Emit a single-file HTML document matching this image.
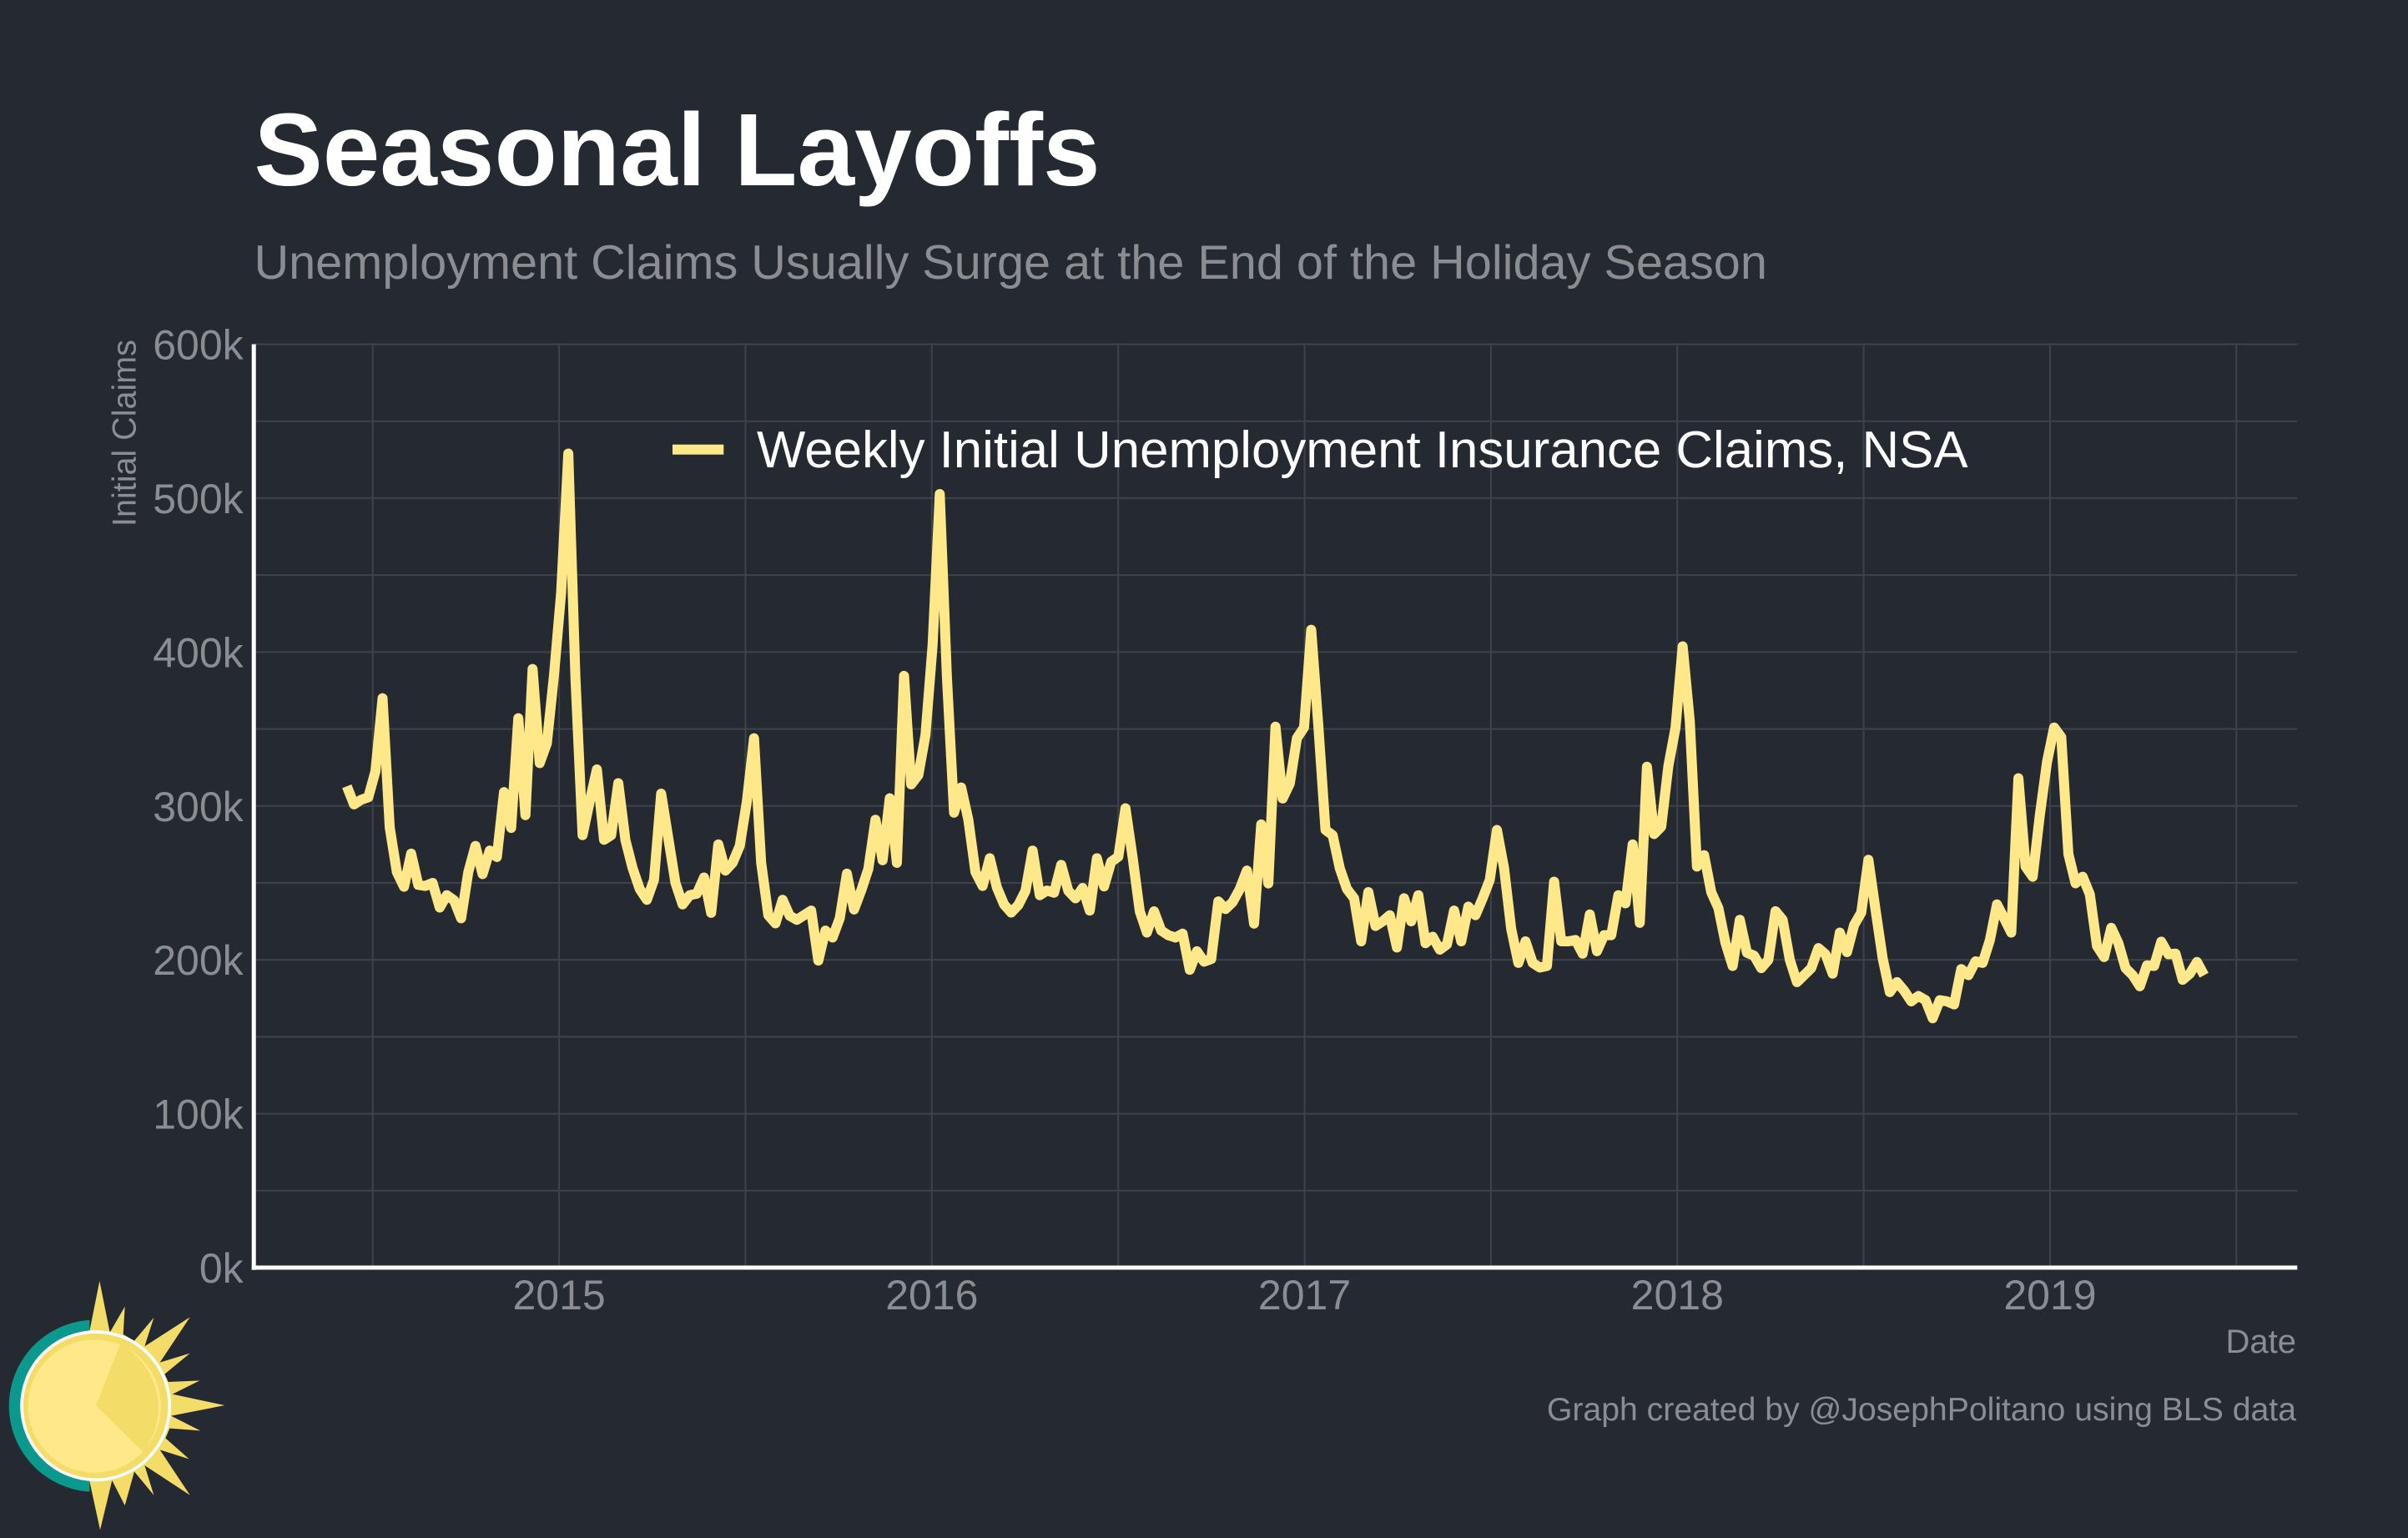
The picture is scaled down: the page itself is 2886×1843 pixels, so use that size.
<!DOCTYPE html>
<html lang="en">
<head>
<meta charset="utf-8">
<title>Seasonal Layoffs</title>
<style>
html,body{margin:0;padding:0;background:#252a32;}
svg{display:block;}
text{font-family:"Liberation Sans",Arial,sans-serif;}
</style>
</head>
<body>
<svg id="chart" xmlns="http://www.w3.org/2000/svg" width="2886" height="1843" viewBox="0 0 2886 1843">
  <rect width="2886" height="1843" fill="#252a32"/>
  <g id="grid"></g>
  <g id="series"></g>
  <g id="axes"></g>
  <text x="304.5" y="222" font-size="123.3" font-weight="700" fill="#ffffff">Seasonal Layoffs</text>
  <text x="304.5" y="334" font-size="57.65" fill="#8c8d93">Unemployment Claims Usually Surge at the End of the Holiday Season</text>
  <text transform="translate(162.5,631) rotate(-90)" font-size="39.5" fill="#8c8d93">Initial Claims</text>
  <text x="2752" y="1621" font-size="40" text-anchor="end" fill="#8c8d93">Date</text>
  <text x="2752" y="1702" font-size="39.2" text-anchor="end" fill="#8c8d93">Graph created by @JosephPolitano using BLS data</text>
  <g>
    <rect x="806" y="532.7" width="61.3" height="12" fill="#fee88a"/>
    <text x="907" y="560" font-size="61.8" fill="#ffffff">Weekly Initial Unemployment Insurance Claims, NSA</text>
  </g>
  <g transform="translate(0,1500) scale(0.33333)">
    <path d="M322,245.6 A309,309 0 0 0 322,862.4 Z" fill="#0a998c"/>
    <polygon fill="#f4dc68" points="322,285 358,105 395,290 449,197 443,297 483,320 553,237 520,340 683,235 575,398 683,365 592,440 605,468 718,463 620,512 808,552 615,590 720,643 610,635 595,670 680,745 575,712 683,875 520,768 553,875 483,790 449,912 403,822 360,1000 322,825 300,560"/>
    <circle cx="344" cy="554" r="266" fill="#f4dc68" stroke="#ffffff" stroke-width="11"/>
    <circle cx="340" cy="555" r="239" fill="#fee88a"/>
    <path d="M345,552 L432,332 A260,260 0 0 1 515,720 Z" fill="#f4dc68"/>
  </g>
</svg>
<script>
const firstWeekEnding = '2014-06-07';
const claimsThousands = [
312.8,301,304,305.6,322.5,370,286,257,247.5,269,
248.7,248,250,234,242,238.7,227,257,274,255.7,
271,266.8,309,285.7,357,294,389,327.8,340.7,385,
438.7,529,383,281,303,323.7,278,281,314.8,277.7,
259.6,246,239,252,308,279,250,236,242,243,
253.5,230.5,275,258,263,274,303,344,263,229,
223.7,239,228.6,226,229,232,199.5,219,214.5,227,
256,232.7,245,259,291,264.7,305,263,384.5,314,
320,346,404.6,502.7,384,295.6,312,291,257,248,
266,247,236,230.7,235.6,244.8,271,242,245,243.6,
261.7,244.8,240,246.7,232,266,247.7,263.7,267,298.5,
266.6,231.5,217.7,231.5,219,216,214.5,217,193.5,205.6,
198.8,200.5,238,233,237.5,246,258,223.5,288,249.6,
351.5,304.8,314.5,344,351,414.5,352,284.4,281,259.5,
246,240,212,244,222,225,229,208,240,225,
242,210.8,215,206.6,210,232,212,234.6,229,240,
252,284.4,259.5,220,198,212,198,195,196,250.8,
212,212,212.9,204,229.5,205.6,216,216,242,236.7,
275,224,325.5,281.7,286.5,326,350.8,403.7,355,260.6,
268,244,233.6,210.8,196,226,204.6,202.7,194.6,200,
231.6,226,200,185.5,190,194.6,207.6,203.6,191,217.7,
205,222.6,230.7,265,232.5,201,179,185.5,180,173,
176.5,173.8,162,173.8,173,171,194,190,199,198,
212.7,236,227,217.7,318,260.6,254,294,328.4,351,
344.7,268.7,249.7,254,242.5,209,201.8,220.8,210.8,194.6,
190,182.8,196.4,196,211.8,203.6,204,187,191,198.6,
190
];
const yTickValues = [0,100,200,300,400,500,600];
const yTickLabels = ['0k','100k','200k','300k','400k','500k','600k'];
const yGridValues = [0,50,100,150,200,250,300,350,400,450,500,550,600];
const xTickYears = [2015,2016,2017,2018,2019];
const xTickLabels = ['2015','2016','2017','2018','2019'];
const xGridYears = [2014.5,2015,2015.5,2016,2016.5,2017,2017.5,2018,2018.5,2019,2019.5];

const NS = 'http://www.w3.org/2000/svg';
const panelLeft = 304;
const panelRight = 2753.3;
const panelTop = 412.5;
const panelBottom = 1519;

function xFromYear(year) {
  return 670.1 + (year - 2015) * 446.72;
}
function xFromDate(date) {
  const days = (date.getTime() - Date.UTC(2015, 0, 1)) / 86400000;
  return xFromYear(2015 + days / 365.25);
}
function yFromValue(value) {
  return panelBottom - (value / 600) * (panelBottom - panelTop);
}
function make(tag, attrs, parent) {
  const el = document.createElementNS(NS, tag);
  Object.keys(attrs).forEach(function (k) { el.setAttribute(k, attrs[k]); });
  parent.appendChild(el);
  return el;
}

const gridLayer = document.getElementById('grid');
const seriesLayer = document.getElementById('series');
const axesLayer = document.getElementById('axes');
const gridStyle = { stroke: '#3e424b', 'stroke-width': 2 };

yGridValues.forEach(function (v) {
  const el = make('line', { x1: panelLeft, x2: panelRight, y1: yFromValue(v), y2: yFromValue(v), stroke: gridStyle.stroke, 'stroke-width': gridStyle['stroke-width'] }, gridLayer);
  
  
});
xGridYears.forEach(function (yr) {
  const el = make('line', { x1: xFromYear(yr), x2: xFromYear(yr), y1: panelTop, y2: panelBottom, stroke: gridStyle.stroke, 'stroke-width': gridStyle['stroke-width'] }, gridLayer);
  
  
});

const startMs = Date.parse(firstWeekEnding + 'T00:00:00Z');
const claimsPoints = claimsThousands.map(function (v, i) {
  const date = new Date(startMs + i * 7 * 86400000);
  return xFromDate(date).toFixed(2) + ',' + yFromValue(v).toFixed(2);
}).join(' ');
const claimsLine = make('polyline', { points: claimsPoints, fill: 'none', stroke: '#fee88a', 'stroke-width': 12, 'stroke-linejoin': 'round', 'stroke-linecap': 'butt' }, seriesLayer);



const yAxisLine = make('line', { x1: 304.2, x2: 304.2, y1: panelTop, y2: panelBottom + 2.7, stroke: '#ffffff', 'stroke-width': 5 }, axesLayer);


const xAxisLine = make('line', { x1: 301.7, x2: panelRight, y1: panelBottom, y2: panelBottom, stroke: '#ffffff', 'stroke-width': 5 }, axesLayer);



yTickValues.forEach(function (v, i) {
  const el = make('text', { x: 291.7, y: yFromValue(v) + 18, 'font-size': 50, 'text-anchor': 'end', fill: '#8c8d93' }, axesLayer);
  el.textContent = yTickLabels[i];
  
  
});
xTickYears.forEach(function (yr, i) {
  const el = make('text', { x: xFromYear(yr), y: 1569, 'font-size': 50, 'text-anchor': 'middle', fill: '#8c8d93' }, axesLayer);
  el.textContent = xTickLabels[i];
  
  
});
</script>
</body>
</html>
